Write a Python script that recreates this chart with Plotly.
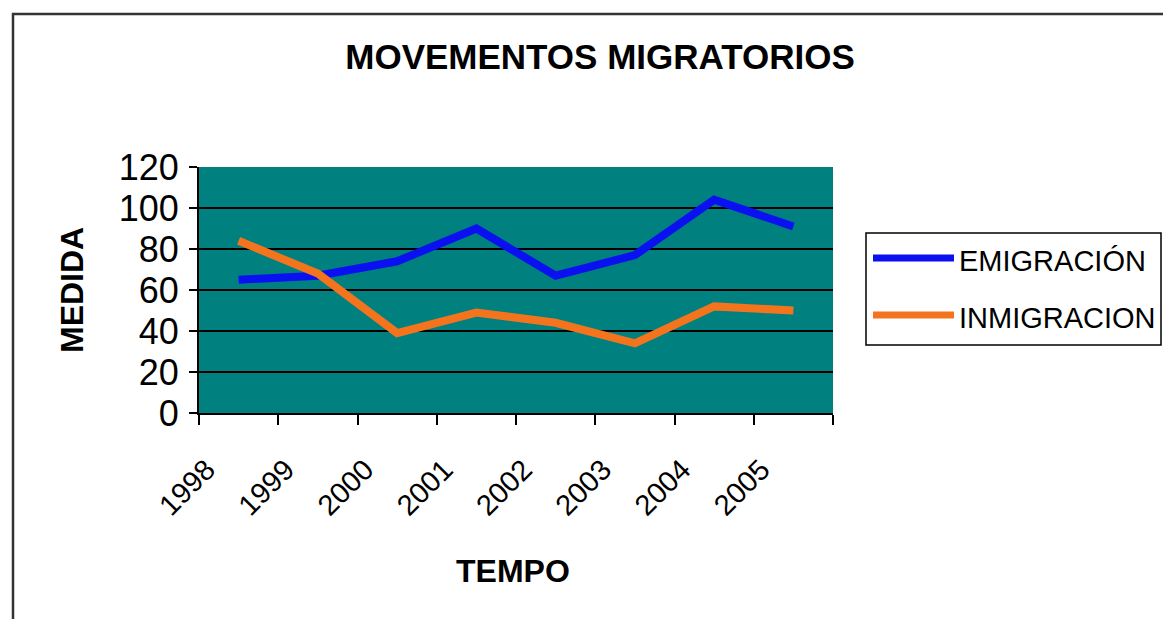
import plotly.graph_objects as go

years = ["1998", "1999", "2000", "2001", "2002", "2003", "2004", "2005"]
emigracion = [65, 67, 74, 90, 67, 77, 104, 91]
inmigracion = [84, 68, 39, 49, 44, 34, 52, 50]
y_ticks = [0, 20, 40, 60, 80, 100, 120]
series_names = ["EMIGRACIÓN", "INMIGRACION"]
series_colors = ["#0a10f0", "#f4741e"]

OFF = 8  # page offset of the rendered figure
W, H = 1171 - OFF, 627 - 2 * OFF
L, R, T, B = 199, 833, 167, 413  # target plot area in screenshot pixels

def px(x):
    return (x - L) / (R - L)

def py(y):
    return (B - y) / (B - T)

fig = go.Figure()
for name, vals, col in zip(series_names, [emigracion, inmigracion], series_colors):
    fig.add_trace(go.Scatter(x=years, y=vals, mode="lines", name=name,
                             line=dict(color=col, width=8), showlegend=False))

font = "Liberation Sans, Arial, sans-serif"

annotations = [
    dict(text="<b>MEDIDA</b>", xref="paper", yref="paper", x=px(72), y=py(290),
         showarrow=False, textangle=-90, font=dict(size=32, family=font),
         xanchor="center", yanchor="middle"),
    dict(text="<b>TEMPO</b>", xref="paper", yref="paper", x=px(513), y=py(571),
         showarrow=False, font=dict(size=32, family=font),
         xanchor="center", yanchor="middle"),
]
shapes = [
    dict(type="rect", xref="paper", yref="paper", x0=px(13), y0=py(700),
         x1=px(1250), y1=py(14), line=dict(color="#333333", width=2.5),
         layer="below"),
    # legend box
    dict(type="rect", xref="paper", yref="paper", x0=px(866), y0=py(345),
         x1=px(1161), y1=py(233), line=dict(color="black", width=1.5),
         fillcolor="white", layer="below"),
]
for i, (name, col) in enumerate(zip(series_names, series_colors)):
    yc = 258 + i * 57
    shapes.append(dict(type="line", xref="paper", yref="paper", x0=px(873),
                       x1=px(954), y0=py(yc), y1=py(yc),
                       line=dict(color=col, width=7)))
    annotations.append(dict(text=name, xref="paper", yref="paper", x=px(957),
                            y=py(yc + 3), showarrow=False, xanchor="left",
                            yanchor="middle", font=dict(size=29, family=font)))

fig.update_layout(
    width=W, height=H,
    margin=dict(l=L - OFF, r=W - (R - OFF), t=T - OFF, b=H - (B - OFF)),
    paper_bgcolor="white",
    plot_bgcolor="#018080",
    font=dict(family=font, color="black"),
    title=dict(text="<b>MOVEMENTOS MIGRATORIOS</b>", x=(600 - OFF) / W,
               xanchor="center", y=1 - (57 - OFF) / H, yanchor="middle",
               font=dict(size=35, family=font)),
    showlegend=False,
    xaxis=dict(type="category", range=[-0.5, 7.5], tickson="boundaries",
               ticks="outside", ticklen=10, tickcolor="black", tickwidth=2,
               showline=True, linecolor="black", linewidth=2, showgrid=False,
               tickangle=-45, tickfont=dict(size=29, family=font),
               ticklabelshift=-32, ticklabelstandoff=26),
    yaxis=dict(range=[0, 120], tickvals=y_ticks, ticks="outside", ticklen=8,
               tickcolor="black", tickwidth=2, showline=True, linecolor="black",
               linewidth=2, showgrid=True, gridcolor="black", gridwidth=2,
               tickfont=dict(size=36, family=font), zeroline=False,
               ticklabelstandoff=3),
    annotations=annotations,
    shapes=shapes,
)

fig.write_html("out.html")
